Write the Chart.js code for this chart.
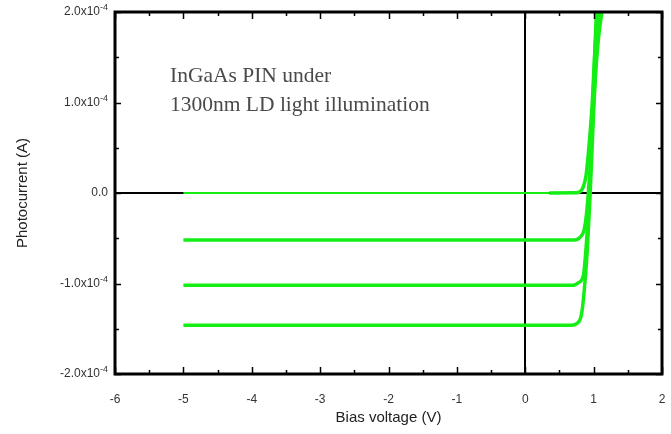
<!DOCTYPE html>
<html>
<head>
<meta charset="utf-8">
<script src="https://cdn.jsdelivr.net/npm/chart.js@4/dist/chart.umd.min.js"></script>
<style>
    html, body {margin: 0; padding: 0; background: #fff;}
    #wrap {width: 671px; height: 434px;}
</style>
</head>
<body>
<div id="wrap"><canvas id="ivChart"></canvas></div>
<script>
const xTicks = [-6, -5, -4, -3, -2, -1, 0, 1, 2];
const yTicks = [-2e-4, -1e-4, 0, 1e-4, 2e-4];
const yTickLabels = ['-2.0x10', '-1.0x10', '0.0', '1.0x10', '2.0x10'];
const yTickPowers = ['-4', '-4', '', '-4', '-4'];

// dark curve and three illumination levels (V, A)
const biasDark = [-5, 0.35, 0.72, 0.79, 0.85, 0.89, 0.93, 0.98, 1.02, 1.06];
const currentDark = [0, 0, 0.002e-4, 0.01e-4, 0.07e-4, 0.2e-4, 0.5e-4, 1.0e-4, 1.6e-4, 2.0e-4];
const biasLow = [-5, 0.72, 0.8, 0.86, 0.9, 0.95, 1.0, 1.07, 1.12];
const currentLow = [-0.52e-4, -0.52e-4, -0.49e-4, -0.41e-4, -0.2e-4, 0.3e-4, 1.0e-4, 1.7e-4, 2.0e-4];
const biasMid = [-5, 0.7, 0.78, 0.85, 0.89, 0.93, 0.97, 1.01, 1.04];
const currentMid = [-1.02e-4, -1.02e-4, -0.99e-4, -0.91e-4, -0.6e-4, -0.1e-4, 0.6e-4, 1.4e-4, 2.0e-4];
const biasHigh = [-5, 0.68, 0.76, 0.82, 0.86, 0.91, 0.95, 1.0, 1.07];
const currentHigh = [-1.46e-4, -1.46e-4, -1.44e-4, -1.35e-4, -1.1e-4, -0.6e-4, 0.0, 0.9e-4, 2.0e-4];

const noteLines = ['InGaAs PIN under', '1300nm LD light illumination'];

const green = '#14ee14';
const pts = (xs, ys) => xs.map((x, i) => ({x, y: ys[i]}));

function curve(label, xs, ys) {
    return {
        label,
        data: pts(xs, ys),
        showLine: true,
        borderColor: green,
        backgroundColor: green,
        borderWidth: 3.5,
        pointRadius: 0,
        cubicInterpolationMode: 'monotone',
        segment: label === 'dark' ? {borderWidth: ctx => ctx.p0.parsed.x < 0.3 ? 2 : 3.5} : undefined
    };
}

function halfSteps(ticks) {
    const out = [];
    for (let i = 0; i < ticks.length - 1; i++) {
        out.push((ticks[i] + ticks[i + 1]) / 2);
    }
    return out;
}

const framePlugin = {
    id: 'frame',
    beforeDatasetsDraw(chart) {
        const {ctx, chartArea: a, scales: {x, y}} = chart;
        ctx.save();
        ctx.strokeStyle = '#000';
        ctx.lineWidth = 2;
        ctx.beginPath();
        const x0 = Math.round(x.getPixelForValue(0));
        const y0 = Math.round(y.getPixelForValue(0));
        ctx.moveTo(x0, a.top);
        ctx.lineTo(x0, a.bottom);
        ctx.moveTo(a.left, y0);
        ctx.lineTo(a.right, y0);
        ctx.stroke();
        ctx.restore();
    },
    afterDatasetsDraw(chart) {
        const {ctx, chartArea: a, scales: {x, y}} = chart;
        ctx.save();
        ctx.strokeStyle = '#000';
        ctx.lineWidth = 1.5;
        ctx.beginPath();
        const tick = (vals, len) => {
            vals.forEach(v => {
                const px = Math.round(x.getPixelForValue(v)) + 0.5;
                ctx.moveTo(px, a.bottom); ctx.lineTo(px, a.bottom - len);
                ctx.moveTo(px, a.top); ctx.lineTo(px, a.top + len);
            });
        };
        const tickY = (vals, len) => {
            vals.forEach(v => {
                const py = Math.round(y.getPixelForValue(v)) + 0.5;
                ctx.moveTo(a.left, py); ctx.lineTo(a.left + len, py);
                ctx.moveTo(a.right, py); ctx.lineTo(a.right - len, py);
            });
        };
        tick(xTicks, 7);
        tick(halfSteps(xTicks), 4);
        tickY(yTicks, 6);
        tickY(halfSteps(yTicks), 4);
        ctx.stroke();

        ctx.lineWidth = 3;
        ctx.strokeRect(a.left, a.top, a.right - a.left, a.bottom - a.top);

        // y tick labels with superscript exponent
        ctx.fillStyle = '#333';
        ctx.textBaseline = 'middle';
        yTicks.forEach((v, i) => {
            const py = y.getPixelForValue(v);
            const right = a.left - 7;
            ctx.font = '9px "Liberation Sans", Arial, sans-serif';
            const pw = yTickPowers[i] ? ctx.measureText(yTickPowers[i]).width : 0;
            ctx.textAlign = 'right';
            if (pw) {
                ctx.fillText(yTickPowers[i], right, py - 4);
            }
            ctx.font = '12px "Liberation Sans", Arial, sans-serif';
            ctx.fillText(yTickLabels[i], right - pw, py);
        });

        // annotation
        ctx.fillStyle = '#4a4a4a';
        ctx.textAlign = 'left';
        ctx.textBaseline = 'alphabetic';
        ctx.font = '21.5px "Liberation Serif", "Times New Roman", serif';
        ctx.fillText(noteLines[0], 170, 82);
        ctx.fillText(noteLines[1], 170, 111);
        ctx.restore();
    }
};

new Chart(document.getElementById('ivChart'), {
    type: 'scatter',
    data: {
        datasets: [
            curve('dark', biasDark, currentDark),
            curve('low', biasLow, currentLow),
            curve('mid', biasMid, currentMid),
            curve('high', biasHigh, currentHigh)
        ]
    },
    options: {
        responsive: true,
        maintainAspectRatio: false,
        animation: false,
        layout: {padding: {top: 12, right: 9}},
        plugins: {legend: {display: false}, tooltip: {enabled: false}},
        scales: {
            x: {
                type: 'linear',
                min: -6,
                max: 2,
                afterBuildTicks: scale => { scale.ticks = xTicks.map(value => ({value})); },
                afterFit: scale => {
                    scale.height = 60;
                    scale.paddingLeft = 0;
                    scale.paddingRight = 0;
                },
                grid: {display: false},
                border: {display: false},
                ticks: {color: '#333', padding: 10, font: {family: '"Liberation Sans", Arial, sans-serif', size: 12}},
                title: {
                    display: true,
                    text: 'Bias voltage (V)',
                    color: '#222',
                    padding: {top: 0, bottom: 7},
                    font: {family: '"Liberation Sans", Arial, sans-serif', size: 15}
                }
            },
            y: {
                type: 'linear',
                min: -2e-4,
                max: 2e-4,
                afterBuildTicks: scale => { scale.ticks = yTicks.map(value => ({value})); },
                afterFit: scale => {
                    scale.width = 115;
                    scale.paddingTop = 0;
                    scale.paddingBottom = 0;
                },
                grid: {display: false},
                border: {display: false},
                ticks: {display: false},
                title: {
                    display: true,
                    text: 'Photocurrent (A)',
                    color: '#222',
                    padding: {top: 14, bottom: 0},
                    font: {family: '"Liberation Sans", Arial, sans-serif', size: 15}
                }
            }
        }
    },
    plugins: [framePlugin]
});
</script>
</body>
</html>
